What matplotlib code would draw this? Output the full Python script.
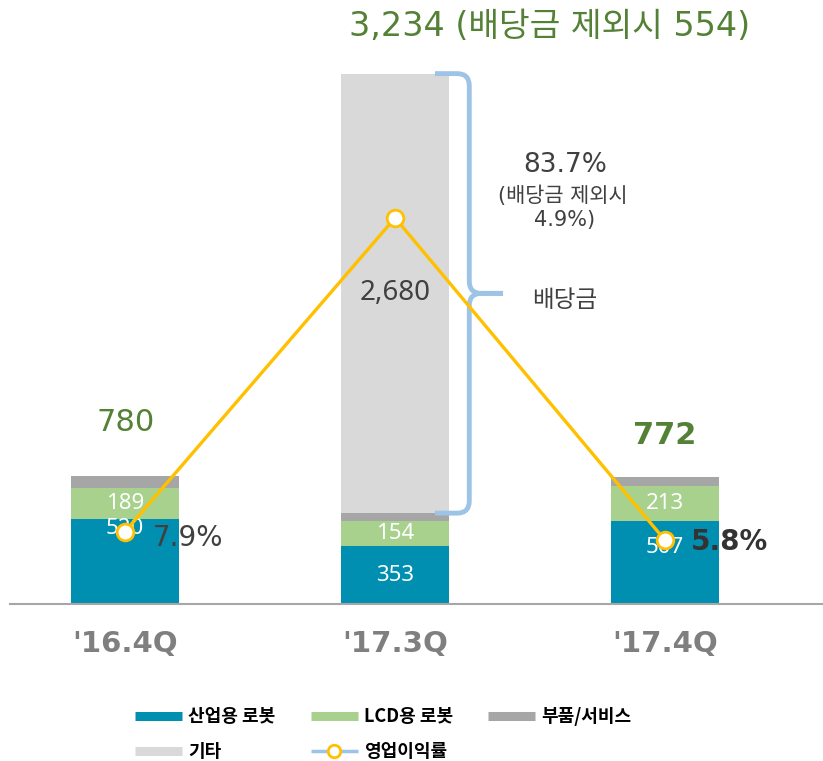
import matplotlib
matplotlib.use('Agg')
import matplotlib.pyplot as plt
import numpy as np
from matplotlib.path import Path
from matplotlib.patches import PathPatch
from matplotlib.lines import Line2D

plt.rcParams['font.family'] = ['DejaVu Sans', 'Noto Sans CJK KR']

# 데이터
분기 = ["'16.4Q", "'17.3Q", "'17.4Q"]
산업용 = [520, 353, 507]
lcd = [189, 154, 213]
부품 = [71, 47, 52]
기타 = [0, 2680, 0]
합계 = [780, 3234, 772]
이익률 = [7.9, 83.7, 5.8]
이익률_라벨 = ['7.9%', '83.7%', '5.8%']
배당금제외_매출 = 554
배당금제외_이익률 = 4.9

c_teal = '#008fb0'
c_green = '#a9d18e'
c_gray = '#a6a6a6'
c_light = '#d9d9d9'
c_yel = '#ffc000'
c_brace = '#9dc3e6'
c_txtg = '#538135'
c_dark = '#404040'

fig = plt.figure(figsize=(8.23, 7.61), dpi=100)
ax = fig.add_axes([10/823, (761-604)/761, 813/823, (604-30)/761])

x = np.arange(len(분기))
w = 0.4
b1 = np.array(산업용)
b2 = b1 + np.array(lcd)
b3 = b2 + np.array(부품)
ax.bar(x, 산업용, w, color=c_teal, zorder=2)
ax.bar(x, lcd, w, bottom=b1, color=c_green, zorder=2)
ax.bar(x, 부품, w, bottom=b2, color=c_gray, zorder=2)
ax.bar(x, 기타, w, bottom=b3, color=c_light, zorder=2)

ax.set_xlim(-0.426, 2.585)
ax.set_ylim(0, 3500)
for s in ['top', 'right', 'left']:
    ax.spines[s].set_visible(False)
ax.spines['bottom'].set_color('#a6a6a6')
ax.spines['bottom'].set_linewidth(1.5)
ax.set_yticks([])
ax.set_xticks(x, 분기)
ax.tick_params(axis='x', length=0, pad=19, labelsize=21, labelcolor='#7f7f7f')
for t in ax.get_xticklabels():
    t.set_fontweight('bold')

# 막대 안 라벨
teal_dy = [33, 0, 15]
for i in range(3):
    ax.annotate(str(산업용[i]), (x[i], 산업용[i] / 2), xytext=(0, teal_dy[i]),
                textcoords='offset pixels', ha='center', va='center',
                color='white', fontsize=16, family='Noto Sans', zorder=3)
    ax.text(x[i], b1[i] + lcd[i] / 2, str(lcd[i]), ha='center', va='center',
            color='white', fontsize=16, family='Noto Sans', zorder=3)
ax.text(x[1], b3[1] + 기타[1] / 2, '{:,}'.format(기타[1]), ha='center', va='center',
        color=c_dark, fontsize=20, family='Noto Sans', zorder=3)

# 합계 라벨
ax.annotate(str(합계[0]), (x[0], 합계[0]), xytext=(1, 54), textcoords='offset pixels',
            ha='center', va='center', color=c_txtg, fontsize=22)
ax.annotate(str(합계[2]), (x[2], 합계[2]), xytext=(0, 42), textcoords='offset pixels',
            ha='center', va='center', color=c_txtg, fontsize=22, fontweight='bold')
ax.annotate('{:,} (배당금 제외시 {})'.format(합계[1], 배당금제외_매출), (x[1], 합계[1]),
            xytext=(155, 47), textcoords='offset pixels', ha='center', va='center',
            color=c_txtg, fontsize=24)

# 중괄호
yt, yb = 합계[1], 배당금제외_매출
ym = (yt + yb) / 2
x0, xv, xt = x[1] + 0.148, x[1] + 0.275, x[1] + 0.40
rx, ry = 0.045, 75
codes = [Path.MOVETO, Path.LINETO, Path.CURVE3, Path.CURVE3, Path.LINETO,
         Path.CURVE3, Path.CURVE3, Path.LINETO]
for ye, sg in [(yt, -1), (yb, 1)]:
    verts = [(x0, ye), (xv - rx, ye), (xv, ye), (xv, ye + sg * ry),
             (xv, ym - sg * ry), (xv, ym), (xv + rx, ym), (xt, ym)]
    ax.add_patch(PathPatch(Path(verts, codes), fill=False, edgecolor=c_brace,
                           lw=3.5, capstyle='butt', joinstyle='round', zorder=2.5))

ax.annotate('배당금', (xt, ym), xytext=(62, -7), textcoords='offset pixels',
            ha='center', va='center', color=c_dark, fontsize=17)
ax.annotate(이익률_라벨[1], (xt, ym), xytext=(62, 128), textcoords='offset pixels',
            ha='center', va='center', color=c_dark, fontsize=19)
ax.annotate('(배당금 제외시', (xt, ym), xytext=(60, 98), textcoords='offset pixels',
            ha='center', va='center', color=c_dark, fontsize=15)
ax.annotate('{}%)'.format(배당금제외_이익률), (xt, ym), xytext=(62, 73),
            textcoords='offset pixels', ha='center', va='center', color=c_dark, fontsize=15)

# 영업이익률 선
ax2 = ax.twinx()
ax2.set_ylim(-9.6, 129.1)
ax2.axis('off')
ax2.plot(x, 이익률, color=c_yel, lw=2.4, marker='o', ms=12, mfc='white',
         mec=c_yel, mew=2, zorder=4)
ax2.annotate(이익률_라벨[0], (x[0], 이익률[0]), xytext=(28, -6), textcoords='offset pixels',
             ha='left', va='center', color=c_dark, fontsize=20)
ax2.annotate(이익률_라벨[2], (x[2], 이익률[2]), xytext=(26, -2), textcoords='offset pixels',
             ha='left', va='center', color='#333333', fontsize=20, fontweight='bold')

# 범례
handles = [Line2D([], [], color=c_teal, lw=6.5, solid_capstyle='butt'),
           Line2D([], [], color=c_light, lw=6.5, solid_capstyle='butt'),
           Line2D([], [], color=c_green, lw=6.5, solid_capstyle='butt'),
           Line2D([], [], color=c_brace, lw=2.5, marker='o', ms=9, mfc='white',
                  mec=c_yel, mew=2, solid_capstyle='butt'),
           Line2D([], [], color=c_gray, lw=6.5, solid_capstyle='butt')]
labels = ['산업용 로봇', '기타', 'LCD용 로봇', '영업이익률', '부품/서비스']
fig.legend(handles, labels, loc='upper left', bbox_to_anchor=(135/823, 1 - 707/761),
           ncol=3, frameon=False, handlelength=2.6, handletextpad=0.35,
           columnspacing=1.95, borderpad=0, borderaxespad=0, labelspacing=0.9,
           prop={'weight': 'bold', 'size': 13, 'family': 'Noto Sans CJK KR'})

fig.savefig('out.png', dpi=100)
